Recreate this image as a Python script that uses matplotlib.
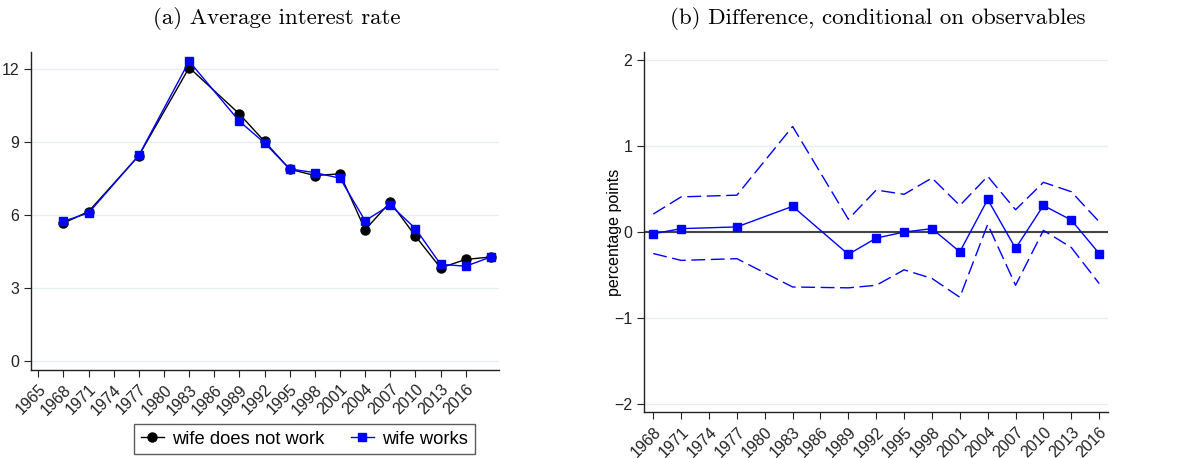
import matplotlib
matplotlib.use("Agg")
import matplotlib.pyplot as plt
from matplotlib.lines import Line2D

# panel (a): average interest rate by survey year
years_a = [1968, 1971, 1977, 1983, 1989, 1992, 1995, 1998, 2001, 2004, 2007, 2010, 2013, 2016, 2019]
rate_not_work = [5.67, 6.15, 8.45, 12.07, 10.16, 9.03, 7.89, 7.63, 7.70, 5.40, 6.54, 5.14, 3.83, 4.18, 4.28]
rate_works = [5.75, 6.09, 8.46, 12.33, 9.86, 8.97, 7.90, 7.75, 7.52, 5.77, 6.42, 5.45, 3.98, 3.90, 4.28]
ticks_a = list(range(1965, 2017, 3))

# panel (b): difference conditional on observables, with confidence band
years_b = [1968, 1971, 1977, 1983, 1989, 1992, 1995, 1998, 2001, 2004, 2007, 2010, 2013, 2016]
diff = [-0.02, 0.04, 0.06, 0.30, -0.26, -0.07, 0.00, 0.04, -0.23, 0.38, -0.19, 0.31, 0.14, -0.25]
upper = [0.21, 0.41, 0.43, 1.23, 0.15, 0.49, 0.44, 0.63, 0.31, 0.65, 0.26, 0.58, 0.47, 0.12]
lower = [-0.25, -0.33, -0.31, -0.64, -0.65, -0.62, -0.44, -0.54, -0.76, 0.09, -0.62, 0.02, -0.18, -0.60]
ticks_b = list(range(1968, 2017, 3))

BLUE = "#0000ff"
GRID = "#e6eef0"
TICK_FONT = "Liberation Sans"
TITLE_FONT = "cmr10"
W, H = 1183, 458

fig = plt.figure(figsize=(W / 100, H / 100), dpi=100)
ax1 = fig.add_axes([0.026, 0.192, 0.396, 0.695])
ax2 = fig.add_axes([0.5446, 0.0998, 0.392, 0.787])


def style(ax, xticks):
    for s in ("top", "right"):
        ax.spines[s].set_visible(False)
    for s in ("left", "bottom"):
        ax.spines[s].set_linewidth(1.0)
        ax.spines[s].set_color("#222222")
    ax.yaxis.grid(True, color=GRID, lw=1.0)
    ax.set_axisbelow(True)
    ax.set_xticks(xticks)
    ax.set_xticklabels([str(t) for t in xticks], rotation=45, ha="right",
                       rotation_mode="anchor", fontsize=11.5, family=TICK_FONT)
    ax.tick_params(axis="both", length=5, width=0.8, colors="#222222", labelsize=11.5)
    for lab in ax.get_yticklabels():
        lab.set_family(TICK_FONT)


ax1.plot(years_a, rate_not_work, color="black", lw=1.0, marker="o", ms=6.5, zorder=3,
         label="wife does not work")
ax1.plot(years_a, rate_works, color=BLUE, lw=1.0, marker="s", ms=6, zorder=4,
         label="wife works")
ax1.set_xlim(1964.1, 2020.0)
ax1.set_ylim(-0.37, 12.72)
ax1.set_yticks([0, 3, 6, 9, 12])
style(ax1, ticks_a)

ax2.axhline(0, color="#444444", lw=1.5, zorder=2)
ax2.plot(years_b, upper, color=BLUE, lw=1.0, ls=(0, (10, 4)), zorder=3)
ax2.plot(years_b, lower, color=BLUE, lw=1.0, ls=(0, (10, 4)), zorder=3)
ax2.plot(years_b, diff, color=BLUE, lw=1.0, marker="s", ms=6, zorder=4)
ax2.set_xlim(1967.03, 2016.95)
ax2.set_ylim(-2.1, 2.1)
ax2.set_yticks([-2, -1, 0, 1, 2])
ax2.set_yticklabels(["\u22122", "\u22121", "0", "1", "2"])
style(ax2, ticks_b)
ax2.set_ylabel("percentage points", fontsize=11.5, family=TICK_FONT)
ax2.yaxis.set_label_coords(-0.048, 0.5)

# panel titles (Stata-style, Computer Modern)
fig.text(277 / W, 1 - 19 / H, "(a) Average interest rate", family=TITLE_FONT,
         fontsize=16.5, ha="center", va="center")
fig.text(878 / W, 1 - 19 / H, "(b) Difference, conditional on observables",
         family=TITLE_FONT, fontsize=16.5, ha="center", va="center")

handles = [
    Line2D([], [], color="black", lw=1.0, marker="o", ms=6.5),
    Line2D([], [], color=BLUE, lw=1.0, marker="s", ms=6),
]
leg = fig.legend(handles, ["wife does not work", "wife works"], loc="center",
                 bbox_to_anchor=(304.5 / W, 1 - 439 / H), ncol=2, frameon=True,
                 fancybox=False, edgecolor="#333333", handlelength=1.25,
                 handletextpad=0.45, columnspacing=1.45, borderpad=0.35,
                 prop={"family": TICK_FONT, "size": 13.2})
leg.get_frame().set_linewidth(1.0)

fig.savefig("out.png", dpi=100)
